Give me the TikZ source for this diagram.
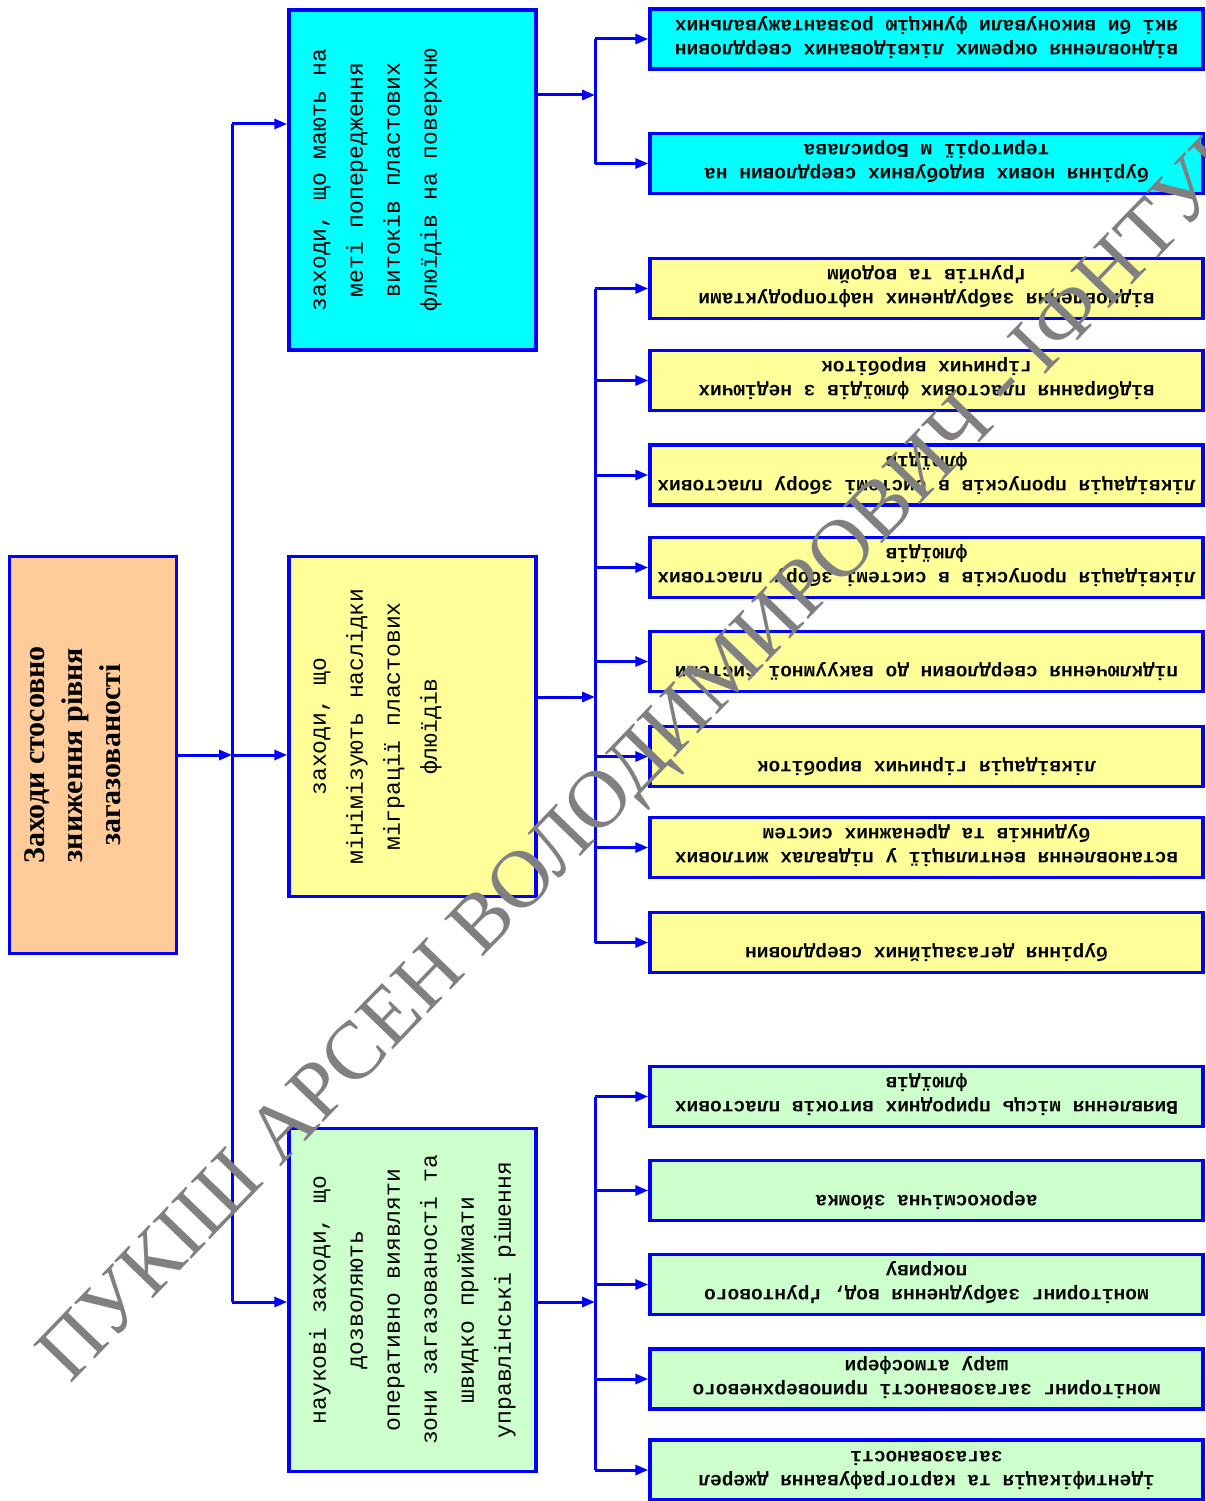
\documentclass[tikz,border=0pt]{standalone}
\usepackage{fontspec}
\setmainfont{Liberation Serif}
\setmonofont{Liberation Mono}
\usetikzlibrary{arrows.meta}

\definecolor{lineblue}{RGB}{0,0,255}
\definecolor{cyanfill}{RGB}{0,255,255}
\definecolor{yellowfill}{RGB}{255,255,153}
\definecolor{greenfill}{RGB}{204,255,204}
\definecolor{peachfill}{RGB}{255,204,153}

\newcommand\rtext[1]{\parbox[c][44pt][t]{548pt}{\centering\strut #1}}
\newcommand\mtext[1]{\parbox[c][225pt][t]{335pt}{\centering\strut #1}}

\tikzset{
  rbox/.style={draw=lineblue, line width=3.5pt, rotate=180, inner sep=0pt,
    minimum width=553pt, minimum height=60pt,
    font=\ttfamily\bfseries\fontsize{19.5}{24}\selectfont},
  mbox/.style={draw=lineblue, line width=3.5pt, rotate=90, inner sep=0pt,
    minimum width=340pt, minimum height=247pt,
    font=\ttfamily\fontsize{23}{37}\selectfont},
  line/.style={draw=lineblue, line width=3pt},
  arr/.style={line, -{Triangle[length=13pt,width=10pt]}},
  watermark/.style={text=black!50, font=\fontsize{82}{82}\selectfont, inner sep=0pt}
}

\begin{document}
\begin{tikzpicture}[x=1pt,y=-1pt]
  \useasboundingbox[fill=white] (0,0) rectangle (1206,1501);

  \node[draw=lineblue, line width=3.5pt, fill=peachfill, rotate=90, inner sep=0pt,
    minimum width=397pt, minimum height=167pt,
    font=\bfseries\fontsize{30}{38}\selectfont] (L) at (93,755)
    {\parbox[c][151pt][t]{380pt}{\centering\strut Заходи стосовно\\зниження рівня\\загазованості}};

  \node[mbox, fill=cyanfill] (M1) at (412.5,180)
    {\mtext{заходи, що мають на\\меті попередження\\витоків пластових\\флюїдів на поверхню}};
  \node[mbox, fill=yellowfill] (M2) at (412.5,726.5)
    {\mtext{заходи, що\\мінімізують наслідки\\міграції пластових\\флюїдів}};
  \node[mbox, fill=greenfill, minimum width=343pt] (M3) at (412.5,1300)
    {\mtext{наукові заходи, що\\дозволяють\\оперативно виявляти\\зони загазованості та\\швидко приймати\\управлінські рішення}};

  \node[rbox, fill=cyanfill] (C1) at (926.5,39)
    {\rtext{відновлення окремих ліквідованих свердловин\\які би виконували функцію розвантажувальних}};
  \node[rbox, fill=cyanfill] (C2) at (926.5,163.5)
    {\rtext{буріння нових видобувних свердловин на\\території м Борислава}};

  \node[rbox, fill=yellowfill] (Y1) at (926.5,288.5)
    {\rtext{відновлення забруднених нафтопродуктами\\ґрунтів та водойм}};
  \node[rbox, fill=yellowfill] (Y2) at (926.5,380.5)
    {\rtext{відбирання пластових флюїдів з недіючих\\гірничих виробіток}};
  \node[rbox, fill=yellowfill] (Y3) at (926.5,475)
    {\rtext{ліквідація пропусків в системі збору пластових\\флюїдів}};
  \node[rbox, fill=yellowfill] (Y4) at (926.5,567.5)
    {\rtext{ліквідація пропусків в системі збору пластових\\флюїдів}};
  \node[rbox, fill=yellowfill] (Y5) at (926.5,661.5)
    {\rtext{підключення свердловин до вакуумної системи}};
  \node[rbox, fill=yellowfill] (Y6) at (926.5,756.5)
    {\rtext{ліквідація гірничих виробіток}};
  \node[rbox, fill=yellowfill] (Y7) at (926.5,847.5)
    {\rtext{встановлення вентиляції у підвалах житлових\\будинків та дренажних систем}};
  \node[rbox, fill=yellowfill] (Y8) at (926.5,942.5)
    {\rtext{буріння дегазаційних свердловин}};

  \node[rbox, fill=greenfill] (G1) at (926.5,1096.5)
    {\rtext{Виявлення місць природних витоків пластових\\флюїдів}};
  \node[rbox, fill=greenfill] (G2) at (926.5,1190.5)
    {\rtext{аерокосмічна зйомка}};
  \node[rbox, fill=greenfill] (G3) at (926.5,1284.5)
    {\rtext{моніторинг забруднення вод, ґрунтового\\покриву}};
  \node[rbox, fill=greenfill] (G4) at (926.5,1379)
    {\rtext{моніторинг загазованості приповерхневого\\шару атмосфери}};
  \node[rbox, fill=greenfill] (G5) at (926.5,1470)
    {\rtext{ідентифікація та картографування джерел\\загазованості}};

  % trunk from the main box
  \coordinate (ta) at (232,124);
  \coordinate (tb) at (232,1302);
  \draw[line] (ta) -- (tb);
  \draw[arr] (ta) -- (ta -| M1.north);
  \draw[arr] (tb) -- (tb -| M3.north);
  \draw[arr] (L.south) -- (L.south -| ta);
  \draw[arr] (L.south -| ta) -- (L.south -| M2.north);

  % branches to the right column
  \coordinate (ba) at (595,95);
  \coordinate (bb) at (595,697);
  \coordinate (bc) at (595,1302);
  \draw[arr] (ba -| M1.south) -- (ba);
  \draw[arr] (bb -| M2.south) -- (bb);
  \draw[arr] (bc -| M3.south) -- (bc);
  \draw[line] (C1.east -| ba) -- (C2.east -| ba);
  \draw[line] (Y1.east -| bb) -- (Y8.east -| bb);
  \draw[line] (G1.east -| bc) -- (G5.east -| bc);
  \foreach \n in {C1,C2} \draw[arr] (\n.east -| ba) -- (\n.east);
  \foreach \n in {Y1,Y2,Y3,Y4,Y5,Y6,Y7,Y8} \draw[arr] (\n.east -| bb) -- (\n.east);
  \foreach \n in {G1,G2,G3,G4,G5} \draw[arr] (\n.east -| bc) -- (\n.east);

  \begin{scope}
    \clip (0,0) rectangle (1206,1501);
    \node[watermark, rotate=46, anchor=base west] (wm) at (70,1385)
      {ПУКІШ АРСЕН ВОЛОДИМИРОВИЧ - ІФНТУНГ};
  \end{scope}
\end{tikzpicture}
\end{document}
